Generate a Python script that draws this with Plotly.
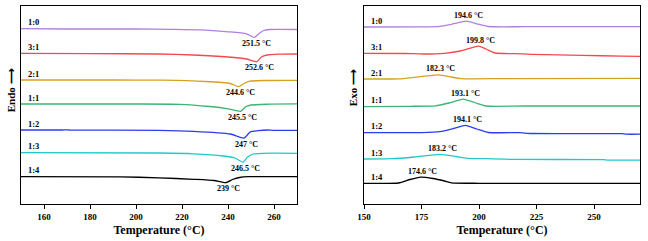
import plotly.graph_objects as go

# ---------------- data ----------------
ratios = ["1:0", "3:1", "2:1", "1:1", "1:2", "1:3", "1:4"]
colors = ["#b07fe0", "#f5484d", "#d4a21c", "#3cb474", "#2d3cf0", "#1fc9c9", "#000000"]

# Melting (endothermic) curves, heat flow in arbitrary units (stacked)
melt_T = [
    [150, 170, 200, 215, 228, 240, 248, 251.5, 253.5, 255.5, 258, 270],
    [150, 180, 210, 225, 240, 248, 252.6, 254.5, 257, 262, 270],
    [150, 190, 212, 230, 241, 244.6, 247, 249.5, 255, 270],
    [150, 200, 219, 232, 240, 245.5, 247.5, 250, 258, 270],
    [150, 168, 169.5, 171, 210, 225, 241, 247, 249.7, 253, 257, 260, 270],
    [150, 210, 225, 238, 243, 246.5, 248.5, 251, 255, 270],
    [150, 193, 210, 225, 234, 239, 242, 245, 249, 270],
]
melt_H = [
    [175.3, 175.0, 175.0, 174.7, 174.2, 172.2, 170.2, 166.6, 170.5, 173.5, 174.5, 174.5],
    [150.7, 150.4, 150.0, 149.0, 147.0, 145.0, 142.4, 147.0, 149.0, 149.8, 150.0],
    [124.0, 124.0, 123.8, 122.5, 120.5, 117.3, 120.5, 122.8, 123.5, 123.7],
    [100.0, 100.0, 99.7, 97.5, 95.2, 92.7, 97.0, 99.0, 99.8, 100.2],
    [74.0, 74.0, 74.2, 74.0, 73.7, 72.7, 70.0, 66.0, 72.2, 73.3, 74.0, 73.6, 73.7],
    [51.3, 51.0, 50.2, 48.0, 46.0, 41.8, 47.0, 50.0, 50.7, 50.7],
    [27.3, 27.2, 26.2, 24.7, 23.5, 21.3, 24.5, 26.5, 27.3, 27.3],
]
melt_peaks = [251.5, 252.6, 244.6, 245.5, 247, 246.5, 239]

# Crystallization (exothermic) curves
cryst_T = [
    [150, 175, 183, 188, 194.6, 199, 204, 220, 270],
    [150, 168, 176, 185, 192, 199.8, 203, 207, 215, 223, 245, 262, 270],
    [150, 165, 172, 182.3, 188, 192, 210, 270],
    [150, 170, 181, 187, 193.1, 198, 203, 220, 270],
    [150, 175, 183, 189, 194.1, 199, 204, 218, 222, 262, 264, 270],
    [150, 162, 172, 183.2, 190, 195, 206, 215, 254, 256, 270],
    [150, 165, 170, 174.6, 180, 185, 188, 200, 270],
]
cryst_H = [
    [177.0, 177.1, 177.7, 179.7, 182.8, 180.2, 177.5, 177.3, 177.3],
    [150.7, 150.5, 150.0, 150.7, 153.0, 157.8, 155.0, 151.0, 150.4, 149.7, 148.7, 147.8, 147.7],
    [125.0, 125.2, 126.7, 129.2, 127.0, 125.3, 125.4, 125.6],
    [97.3, 97.7, 98.2, 101.0, 104.8, 101.5, 98.0, 98.0, 98.0],
    [71.3, 71.4, 72.3, 75.5, 78.6, 75.0, 71.5, 71.3, 70.5, 70.3, 69.8, 69.8],
    [45.0, 45.3, 47.0, 49.6, 47.5, 45.7, 45.2, 44.6, 44.3, 43.9, 43.9],
    [20.7, 21.0, 24.5, 26.9, 25.5, 23.0, 21.2, 20.7, 20.7],
]
cryst_peaks = [194.6, 199.8, 182.3, 193.1, 194.1, 183.2, 174.6]

left_ticks = [160, 180, 200, 220, 240, 260]
right_ticks = [150, 175, 200, 225, 250]

# ---------------- figure ----------------
FONT = "Liberation Serif"
fig = go.Figure()

for i, r in enumerate(ratios):
    fig.add_trace(go.Scatter(x=melt_T[i], y=melt_H[i], mode="lines",
                             line=dict(color=colors[i], width=1.3, shape="spline", smoothing=0.5),
                             xaxis="x", yaxis="y", showlegend=False, hoverinfo="skip"))
    fig.add_trace(go.Scatter(x=cryst_T[i], y=cryst_H[i], mode="lines",
                             line=dict(color=colors[i], width=1.3, shape="spline", smoothing=0.5),
                             xaxis="x2", yaxis="y2", showlegend=False, hoverinfo="skip"))

def fmt(v):
    return ("%g" % v) + " \u00b0C"

ann = []
for i, r in enumerate(ratios):
    # series labels
    ann.append(dict(x=152, y=melt_H[i][0] + 6.5, xref="x", yref="y", text="<b>%s</b>" % r,
                    showarrow=False, xanchor="left", yanchor="middle",
                    font=dict(family=FONT, size=8.5, color="black")))
    ann.append(dict(x=152, y=cryst_H[i][0] + 6.5, xref="x2", yref="y2", text="<b>%s</b>" % r,
                    showarrow=False, xanchor="left", yanchor="middle",
                    font=dict(family=FONT, size=8.5, color="black")))
    # peak labels
    ann.append(dict(x=melt_peaks[i] + 1, y=min(melt_H[i]) - 6, xref="x", yref="y",
                    text="<b>%s</b>" % fmt(melt_peaks[i]), showarrow=False,
                    xanchor="center", yanchor="middle",
                    font=dict(family=FONT, size=8, color="black")))
    ann.append(dict(x=cryst_peaks[i] + 1, y=max(cryst_H[i]) + 6, xref="x2", yref="y2",
                    text="<b>%s</b>" % fmt(cryst_peaks[i]), showarrow=False,
                    xanchor="center", yanchor="middle",
                    font=dict(family=FONT, size=8, color="black")))

# y-axis titles with arrows
ann.append(dict(x=0.0165, y=0.573, xref="paper", yref="paper", text="<b>Endo \u27f6</b>",
                textangle=-90, showarrow=False, xanchor="center", yanchor="middle",
                font=dict(family=FONT, size=11, color="black")))
ann.append(dict(x=0.546, y=0.589, xref="paper", yref="paper", text="<b>Exo \u27f6</b>",
                textangle=-90, showarrow=False, xanchor="center", yanchor="middle",
                font=dict(family=FONT, size=11, color="black")))

axis_common = dict(showline=True, mirror=True, linecolor="black", linewidth=1,
                   showgrid=False, zeroline=False, automargin=False)
xcommon = dict(axis_common, ticks="outside", ticklen=4, tickcolor="black",
               tickfont=dict(family=FONT, size=9, color="black", weight="bold"),
               title=dict(text="<b>Temperature (\u00b0C)</b>", standoff=4,
                          font=dict(family=FONT, size=12, color="black")),
               range=[150, 270])
ycommon = dict(axis_common, showticklabels=False, ticks="", range=[0, 198])

fig.update_layout(
    width=648, height=241,
    margin=dict(l=0, r=0, t=6, b=37, autoexpand=False),
    paper_bgcolor="white", plot_bgcolor="white",
    hovermode=False,
    xaxis=dict(xcommon, domain=[21 / 648, 297 / 648], anchor="y", tickvals=left_ticks),
    yaxis=dict(ycommon, domain=[0, 1], anchor="x"),
    xaxis2=dict(xcommon, domain=[364 / 648, 640 / 648], anchor="y2", tickvals=right_ticks),
    yaxis2=dict(ycommon, domain=[0, 1], anchor="x2"),
    annotations=ann,
)

fig.write_html("out.html", config={"displayModeBar": False},
               post_script="document.body.style.margin='0';")
